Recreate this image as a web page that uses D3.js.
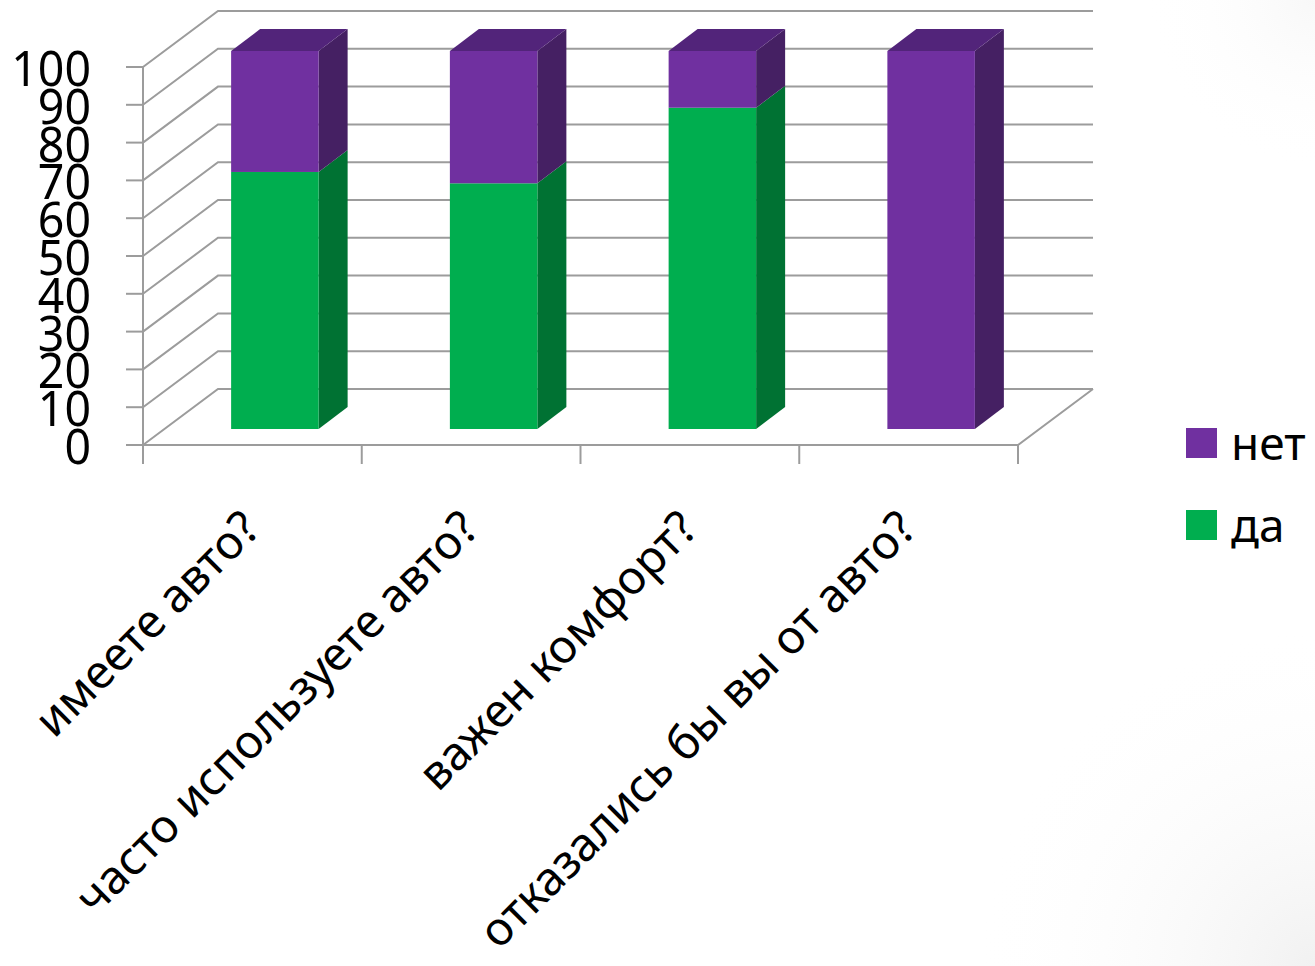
<!DOCTYPE html>
<html>
<head>
<meta charset="utf-8">
<script src="https://cdn.jsdelivr.net/npm/d3@7"></script>
<style>
  html, body { margin: 0; padding: 0; background: #fff; }
  text { font-family: "Comic Sans MS", "Noto Sans", "DejaVu Sans", sans-serif; fill: #000; }
</style>
</head>
<body>
<svg id="chart" width="1315" height="966"></svg>
<script>
const categories = ["имеете авто?", "часто используете авто?", "важен комфорт?", "отказались бы вы от авто?"];
const yesValues = [68, 65, 85, 0];
const noValues = [32, 35, 15, 100];
const yTicks = [0, 10, 20, 30, 40, 50, 60, 70, 80, 90, 100];

const svg = d3.select("#chart");

// faint slide background in the right corners
const defs = svg.append("defs");
function cornerShade(id, cx, cy, r, color) {
  const grad = defs.append("radialGradient").attr("id", id)
    .attr("gradientUnits", "userSpaceOnUse").attr("cx", cx).attr("cy", cy).attr("r", r);
  grad.append("stop").attr("offset", 0).attr("stop-color", color);
  grad.append("stop").attr("offset", 1).attr("stop-color", "#fff").attr("stop-opacity", 0);
  svg.append("rect").attr("width", 1315).attr("height", 966).attr("fill", `url(#${id})`);
}
cornerShade("shadeBottom", 1315, 966, 340, "#f1f1f1");
cornerShade("shadeTop", 1315, 0, 170, "#f8f8f8");

const gridColor = "#9c9c9c";
const depthX = 75, depthY = -56;
const x = d3.scaleBand().domain(categories).range([143, 1018]);
const y = d3.scaleLinear().domain([0, 100]).range([445, 67]);
const barWidth = 87.5;
const barShift = 36.5, barShiftY = -16;

// back wall + floor
const backLeft = 143 + depthX, backRight = 1018 + depthX;
svg.append("g").selectAll("path").data(yTicks).join("path")
  .attr("d", d => `M143,${y(d)}L${backLeft},${y(d) + depthY}L${backRight},${y(d) + depthY}`)
  .attr("fill", "none").attr("stroke", gridColor).attr("stroke-width", 2);
svg.append("path")
  .attr("d", `M143,${y(0)}L143,${y(100)}`)
  .attr("stroke", gridColor).attr("stroke-width", 2);
svg.append("path")
  .attr("d", `M143,${y(0)}L1018,${y(0)}L${backRight},${y(0) + depthY}`)
  .attr("fill", "none").attr("stroke", gridColor).attr("stroke-width", 2);

// ticks
svg.append("g").selectAll("line").data(yTicks).join("line")
  .attr("x1", 126).attr("x2", 143)
  .attr("y1", d => y(d)).attr("y2", d => y(d))
  .attr("stroke", gridColor).attr("stroke-width", 2);
const xEdges = categories.map(c => x(c)).concat([1018]);
svg.append("g").selectAll("line").data(xEdges).join("line")
  .attr("x1", d => d).attr("x2", d => d)
  .attr("y1", y(0)).attr("y2", y(0) + 19)
  .attr("stroke", gridColor).attr("stroke-width", 2);

svg.append("g").selectAll("text").data(yTicks).join("text")
  .attr("transform", d => `translate(91,${y(d) + 1}) scale(0.93,1)`)
  .attr("dy", "0.36em").attr("text-anchor", "end")
  .attr("font-size", 50)
  .text(d => d);

// bars
function drawBlock(g, left, v0, v1, front, side, top) {
  const x0 = left + barShift, x1 = x0 + barWidth;
  const yb = y(v0) + barShiftY, yt = y(v1) + barShiftY;
  const dx = 29, dy = -22;
  g.append("path").attr("fill", side)
    .attr("d", `M${x1},${yb}L${x1 + dx},${yb + dy}L${x1 + dx},${yt + dy}L${x1},${yt}Z`);
  g.append("rect").attr("x", x0).attr("y", yt).attr("width", barWidth).attr("height", yb - yt).attr("fill", front);
  if (top) {
    g.append("path").attr("fill", top)
      .attr("d", `M${x0},${yt}L${x0 + dx},${yt + dy}L${x1 + dx},${yt + dy}L${x1},${yt}Z`);
  }
}
const bars = svg.append("g");
categories.forEach((c, i) => {
  const left = x(c) + (x.bandwidth() - barWidth) / 2 - 14;
  if (yesValues[i] > 0) drawBlock(bars, left, 0, yesValues[i], "#00ae4f", "#007233", null);
  drawBlock(bars, left, yesValues[i], yesValues[i] + noValues[i], "#7030a0", "#452063", "#52247a");
});

// category labels
svg.append("g").selectAll("text").data(categories).join("text")
  .attr("transform", c => `translate(${x(c) + x.bandwidth() / 2 + 10},531) rotate(-45)`)
  .attr("text-anchor", "end")
  .attr("font-size", 46.5)
  .text(c => c);

// legend
const legend = [["нет", "#7030a0", 443], ["да", "#00ae4f", 525]];
const lg = svg.append("g").selectAll("g").data(legend).join("g")
  .attr("transform", d => `translate(1186,${d[2]})`);
lg.append("rect").attr("x", 0).attr("y", -15).attr("width", 31).attr("height", 30).attr("fill", d => d[1]);
lg.append("text").attr("x", 45).attr("dy", "0.36em").attr("font-size", 46).text(d => d[0]);
</script>
</body>
</html>
